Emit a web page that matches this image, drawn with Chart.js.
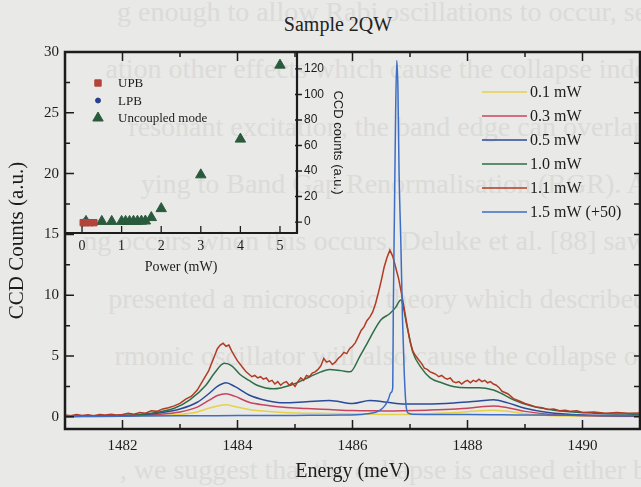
<!DOCTYPE html>
<html>
<head>
<meta charset="utf-8">
<script src="https://cdn.jsdelivr.net/npm/chart.js@4.4.1/dist/chart.umd.min.js"></script>
<style>
  html, body { margin: 0; padding: 0; background: #e9e9e7; overflow: hidden; }
  #wrap { position: relative; width: 641px; height: 487px; overflow: hidden; }
  .pg { position: absolute; right: -6px; white-space: nowrap; font: 28px "Liberation Serif", serif; color: #dbdbd9; line-height: 28px; }
  #title { position: absolute; top: 14px; left: 0; width: 676px; text-align: center; font: 20px "Liberation Serif", serif; line-height: 20px; color: #222; }
  canvas { position: absolute; left: 0; top: 0; }
</style>
</head>
<body>
<div id="wrap">
  <div id="page"></div>
  <div id="title">Sample 2QW</div>
  <canvas id="main" width="641" height="487"></canvas>
  <canvas id="inset" width="641" height="487"></canvas>
</div>
<script>
// show-through text of the scanned page
const pageText = [
  'g enough to allow Rabi oscillations to occur, se',
  'ation other effects which cause the collapse inde',
  'resonant excitation, the band edge can overlap',
  'ying to Band Gap Renormalisation (BGR). A',
  'ng occurs when this occurs, Deluke et al. [88] saw',
  'presented a microscopic theory which described',
  'rmonic oscillator will also cause the collapse of',
  '',
  ', we suggest that the collapse is caused either b'
];

// main spectra
const seriesLabels = ['0.1 mW', '0.3 mW', '0.5 mW', '1.0 mW', '1.1 mW', '1.5 mW (+50)'];
const seriesColors = ['#e4d24a', '#c8445c', '#2b4a98', '#2e6e46', '#b23b24', '#3c6ec6'];

const energyLow = [1481.0, 1482.0, 1482.6, 1483.0, 1483.3, 1483.5, 1483.65, 1483.8, 1483.95, 1484.2, 1484.5, 1484.8,
  1485.2, 1485.6, 1486.0, 1486.3, 1486.6, 1486.9, 1487.3, 1487.8, 1488.2, 1488.45, 1488.7, 1489.0, 1489.4, 1490.0, 1491.0];
const counts01 = [0.02, 0.05, 0.1, 0.2, 0.4, 0.7, 0.9, 1.0, 0.85, 0.6, 0.45, 0.35, 0.3, 0.28, 0.25, 0.22, 0.2, 0.2,
  0.25, 0.35, 0.5, 0.55, 0.45, 0.25, 0.12, 0.06, 0.03];
const counts03 = [0.03, 0.08, 0.2, 0.4, 0.8, 1.35, 1.75, 1.9, 1.7, 1.2, 0.95, 0.78, 0.68, 0.6, 0.52, 0.5, 0.48, 0.5,
  0.55, 0.65, 0.8, 0.9, 0.75, 0.45, 0.22, 0.1, 0.05];
const counts05 = [0.03, 0.1, 0.3, 0.65, 1.2, 1.9, 2.5, 2.8, 2.5, 1.8, 1.35, 1.15, 1.25, 1.35, 1.1, 1.35, 1.2, 1.05,
  1.05, 1.15, 1.3, 1.4, 1.15, 0.7, 0.35, 0.15, 0.08];

const energy10 = [1481.0, 1482.0, 1482.5, 1482.9, 1483.17, 1483.45, 1483.6, 1483.77, 1483.9, 1484.04, 1484.2, 1484.34,
  1484.63, 1484.92, 1485.26, 1485.45, 1485.6, 1485.8, 1485.96, 1486.13, 1486.25, 1486.4, 1486.5, 1486.65, 1486.75,
  1486.84, 1486.95, 1487.05, 1487.2, 1487.35, 1487.55, 1487.75, 1488.0, 1488.2, 1488.45, 1488.6, 1488.8, 1489.1,
  1489.5, 1490.2, 1491.0];
const counts10 = [0.05, 0.1, 0.3, 0.7, 1.4, 2.6, 3.6, 4.4, 4.2, 3.5, 3.0, 2.6, 2.3, 2.6, 3.3, 3.7, 3.9, 3.8, 3.7, 5.0,
  6.0, 7.3, 8.0, 8.5, 9.0, 9.6, 7.4, 5.3, 4.0, 3.2, 2.8, 2.5, 2.4, 2.4, 2.2, 1.9, 1.4, 0.9, 0.55, 0.3, 0.2];

const energy11 = [1481.0, 1481.1, 1481.2, 1481.3, 1481.4, 1481.5, 1481.6, 1481.7, 1481.8, 1481.9, 1482.0, 1482.1,
  1482.2, 1482.3, 1482.4, 1482.5, 1482.6, 1482.7, 1482.8, 1482.9, 1483.0, 1483.1, 1483.2, 1483.3, 1483.4, 1483.5,
  1483.6, 1483.65, 1483.7, 1483.75, 1483.8, 1483.85, 1483.9, 1483.95, 1484.0, 1484.05, 1484.1, 1484.15, 1484.2,
  1484.25, 1484.3, 1484.35, 1484.4, 1484.45, 1484.5, 1484.55, 1484.6, 1484.65, 1484.7, 1484.75, 1484.8, 1484.85,
  1484.9, 1484.95, 1485.0, 1485.05, 1485.1, 1485.15, 1485.2, 1485.25, 1485.3, 1485.35, 1485.4, 1485.45, 1485.5,
  1485.55, 1485.6, 1485.65, 1485.7, 1485.75, 1485.8, 1485.85, 1485.9, 1485.95, 1486.0, 1486.05, 1486.1, 1486.15,
  1486.2, 1486.25, 1486.3, 1486.35, 1486.4, 1486.45, 1486.5, 1486.55, 1486.6, 1486.65, 1486.7, 1486.75, 1486.8,
  1486.85, 1486.9, 1486.95, 1487.0, 1487.05, 1487.1, 1487.15, 1487.2, 1487.25, 1487.3, 1487.35, 1487.4, 1487.45,
  1487.5, 1487.55, 1487.6, 1487.65, 1487.7, 1487.75, 1487.8, 1487.85, 1487.9, 1487.95, 1488.0, 1488.05, 1488.1,
  1488.15, 1488.2, 1488.25, 1488.3, 1488.35, 1488.4, 1488.45, 1488.5, 1488.55, 1488.6, 1488.7, 1488.8, 1488.9,
  1489.0, 1489.1, 1489.2, 1489.3, 1489.4, 1489.5, 1489.6, 1489.7, 1489.8, 1489.9, 1490.0, 1490.2, 1490.4, 1490.6,
  1490.8, 1491.0];
const counts11 = [0.15, 0.1, 0.2, 0.12, 0.18, 0.1, 0.2, 0.15, 0.22, 0.16, 0.2, 0.3, 0.22, 0.35, 0.3, 0.5, 0.45,
  0.65, 0.75, 0.9, 1.1, 1.45, 1.7, 2.2, 3.0, 3.8, 5.0, 5.6, 5.9, 6.05, 5.8, 5.9, 5.4, 5.0, 4.6, 4.3, 4.0, 3.7, 3.5,
  3.3, 3.4, 3.2, 3.3, 3.1, 3.2, 2.9, 3.0, 2.7, 2.9, 2.6, 2.8, 2.9, 2.6, 2.8, 2.5, 2.9, 3.2, 3.0, 3.4, 3.3, 3.6, 3.7,
  3.9, 4.2, 4.8, 4.5, 4.6, 4.3, 4.5, 4.8, 5.0, 5.3, 5.2, 5.6, 5.8, 6.1, 6.6, 7.1, 7.4, 7.9, 8.2, 8.6, 9.3, 10.2,
  11.2, 12.3, 13.1, 13.7, 13.2, 12.3, 11.4, 10.2, 8.9, 7.5, 6.2, 5.4, 5.0, 4.7, 4.4, 4.0, 3.9, 3.7, 3.6, 3.5, 3.3,
  3.4, 3.2, 3.1, 3.2, 2.9, 2.8, 2.9, 2.7, 2.9, 3.0, 2.8, 3.0, 2.9, 3.1, 2.9, 3.0, 2.8, 2.9, 2.7, 2.6, 2.4, 2.1, 1.9,
  1.5, 1.3, 1.1, 0.95, 0.8, 0.75, 0.6, 0.65, 0.5, 0.55, 0.45, 0.5, 0.35, 0.4, 0.3, 0.35, 0.3, 0.32];

const energy15 = [1481.0, 1482.0, 1483.0, 1484.0, 1485.0, 1485.8, 1486.2, 1486.4, 1486.48, 1486.56, 1486.62,
  1486.67, 1486.7, 1486.71, 1486.73, 1486.75, 1486.77, 1486.79, 1486.81, 1486.84, 1486.87, 1486.9, 1486.93,
  1486.97, 1487.05, 1487.5, 1488.0, 1489.0, 1490.0, 1491.0];
const counts15 = [0.02, 0.05, 0.08, 0.1, 0.12, 0.15, 0.22, 0.38, 0.55, 0.9, 1.4, 2.0, 2.4, 9.0, 17.0, 25.0, 29.3,
  27.0, 20.0, 14.5, 8.0, 3.6, 1.0, 0.3, 0.22, 0.2, 0.2, 0.15, 0.12, 0.1];

const energyTicks = [1482, 1484, 1486, 1488, 1490];
const energyMinor = [1483, 1485, 1487, 1489];
const countTicks = [0, 5, 10, 15, 20, 25, 30];
const countMinor = [2.5, 7.5, 12.5, 17.5, 22.5, 27.5];

// inset: peak intensity vs power
const insetLabels = ['UPB', 'LPB', 'Uncoupled mode'];
const upbPower = [0.03, 0.1, 0.2, 0.3];
const upbCounts = [-0.5, -0.5, -0.5, -0.5];
const lpbPower = [0.05, 0.15];
const lpbCounts = [0.5, 0.3];
const uncPower = [0.1, 0.5, 0.75, 1.0, 1.1, 1.2, 1.3, 1.4, 1.5, 1.6, 1.75, 2.0, 3.0, 4.0, 5.0];
const uncCounts = [0.5, 0.5, 0.5, 0.5, 0.5, 0.5, 0.6, 0.6, 0.7, 0.8, 3.5, 10.5, 37, 65, 123];
const powerTicks = [0, 1, 2, 3, 4, 5];
const insetCountTicks = [0, 20, 40, 60, 80, 100, 120];

// ---- page text
const page = document.getElementById('page');
pageText.forEach((t, i) => {
  const d = document.createElement('div');
  d.className = 'pg';
  d.style.top = (12 + i * 57.3 - 14) + 'px';
  d.textContent = t;
  page.appendChild(d);
});

const pts = (xs, ys) => xs.map((x, i) => ({x: x, y: ys[i]}));
const serif = 'Liberation Serif';
const ink = '#1c1c1c';
const plain = v => String(v);

const mainSeries = [
  pts(energyLow, counts01), pts(energyLow, counts03), pts(energyLow, counts05),
  pts(energy10, counts10), pts(energy11, counts11), pts(energy15, counts15)
];

function seg(ctx, x1, y1, x2, y2) { ctx.moveTo(x1, y1); ctx.lineTo(x2, y2); }

const mainFrame = {
  id: 'mainFrame',
  afterDatasetsDraw(chart) {
    const {ctx, chartArea: a, scales: {x, y}} = chart;
    ctx.save();
    ctx.strokeStyle = ink;
    ctx.lineWidth = 1.5;
    ctx.beginPath();
    energyTicks.concat(energyMinor).forEach(e => {
      const px = x.getPixelForValue(e);
      const len = energyTicks.includes(e) ? 9 : 5;
      seg(ctx, px, a.bottom, px, a.bottom - len);
      seg(ctx, px, a.top, px, a.top + len);
    });
    countTicks.concat(countMinor).forEach(v => {
      const py = y.getPixelForValue(v);
      const len = countTicks.includes(v) ? 9 : 5;
      seg(ctx, a.left, py, a.left + len, py);
      seg(ctx, a.right, py, a.right - 6, py);
    });
    ctx.stroke();
    ctx.lineWidth = 2.5;
    ctx.strokeRect(a.left, a.top, a.right - a.left, a.bottom - a.top);
    ctx.restore();
  },
  afterDraw(chart) {
    const ctx = chart.ctx;
    ctx.save();
    ctx.font = '16px "' + serif + '"';
    ctx.textBaseline = 'middle';
    chart.data.datasets.forEach((ds, i) => {
      const yy = 92 + i * 24;
      ctx.strokeStyle = ds.borderColor;
      ctx.lineWidth = 1.6;
      ctx.beginPath();
      seg(ctx, 482, yy, 527, yy);
      ctx.stroke();
      ctx.fillStyle = ink;
      ctx.fillText(ds.label, 530, yy + 1);
    });
    ctx.restore();
  }
};

new Chart(document.getElementById('main'), {
  type: 'line',
  data: {
    datasets: mainSeries.map((d, i) => ({
      label: seriesLabels[i],
      data: d,
      borderColor: seriesColors[i],
      borderWidth: 1.5,
      pointRadius: 0,
      fill: false,
      tension: i === 4 ? 0 : 0.35,
      cubicInterpolationMode: i === 4 ? 'default' : 'monotone',
      order: i === 5 ? 0 : 6 - i
    }))
  },
  options: {
    responsive: false,
    animation: false,
    layout: {padding: {left: 0, right: 1, top: 52, bottom: 0}},
    plugins: {legend: {display: false}, tooltip: {enabled: false}},
    scales: {
      x: {
        type: 'linear', min: 1481, max: 1491,
        afterBuildTicks: s => { s.ticks = energyTicks.map(v => ({value: v})); },
        afterFit: s => { s.height = 58; },
        grid: {display: false, drawTicks: false},
        border: {display: false},
        ticks: {padding: 8, color: ink, font: {family: serif, size: 15}, maxRotation: 0, callback: plain},
        title: {display: true, text: 'Energy (meV)', color: ink, font: {family: serif, size: 20}, padding: {top: 0, bottom: 3}}
      },
      y: {
        type: 'linear', min: -1, max: 30,
        afterBuildTicks: s => { s.ticks = countTicks.map(v => ({value: v})); },
        afterFit: s => { s.width = 65; },
        grid: {display: false, drawTicks: false},
        border: {display: false},
        ticks: {padding: 6, color: ink, font: {family: serif, size: 15}, callback: plain},
        title: {display: true, text: 'CCD Counts (a.u.)', color: ink, font: {family: serif, size: 21}, padding: {top: 5, bottom: 0}}
      }
    }
  },
  plugins: [mainFrame]
});

// ---- inset
const insetColors = ['#b2443a', '#28408c', '#2a5a3c'];
const insetStyles = ['rect', 'circle', 'triangle'];
const insetRadius = [4.5, 2.5, 6];

const insetAxes = {
  id: 'insetAxes',
  afterDatasetsDraw(chart) {
    const {ctx, chartArea: a, scales: {x, y}} = chart;
    ctx.save();
    ctx.strokeStyle = ink;
    ctx.lineWidth = 1.3;
    ctx.beginPath();
    powerTicks.forEach(p => {
      const px = x.getPixelForValue(p);
      seg(ctx, px, a.bottom, px, a.bottom - 7);
    });
    insetCountTicks.forEach(v => {
      const py = y.getPixelForValue(v);
      seg(ctx, a.right - 2, py, a.right + 5, py);
    });
    ctx.stroke();
    ctx.lineWidth = 2.2;
    ctx.beginPath();
    seg(ctx, a.right, a.top, a.right, a.bottom);
    seg(ctx, a.left, a.bottom, a.right + 1, a.bottom);
    ctx.stroke();
    // legend
    ctx.font = '13px "' + serif + '"';
    ctx.textBaseline = 'middle';
    chart.data.datasets.forEach((ds, i) => {
      const yy = 83 + i * 17.5;
      ctx.fillStyle = ds.backgroundColor;
      ctx.strokeStyle = ds.borderColor;
      ctx.lineWidth = 1;
      Chart.helpers.drawPoint(ctx, {pointStyle: ds.pointStyle, radius: ds.pointRadius, borderWidth: 1, rotation: 0}, 98, yy);
      ctx.fillStyle = ink;
      ctx.fillText(ds.label, 118, yy + 1);
    });
    ctx.restore();
  }
};

new Chart(document.getElementById('inset'), {
  type: 'scatter',
  data: {
    datasets: [pts(upbPower, upbCounts), pts(lpbPower, lpbCounts), pts(uncPower, uncCounts)].map((d, i) => ({
      label: insetLabels[i],
      data: d,
      pointStyle: insetStyles[i],
      pointRadius: insetRadius[i],
      backgroundColor: insetColors[i],
      borderColor: insetColors[i],
      borderWidth: 1
    }))
  },
  options: {
    responsive: false,
    animation: false,
    layout: {padding: {left: 65, right: 284, top: 52, bottom: 199}},
    plugins: {legend: {display: false}, tooltip: {enabled: false}},
    scales: {
      x: {
        type: 'linear', min: -0.43, max: 5.43,
        afterBuildTicks: s => { s.ticks = powerTicks.map(v => ({value: v})); },
        afterFit: s => { s.height = 55; },
        grid: {display: false, drawTicks: false},
        border: {display: false},
        ticks: {padding: 5, color: ink, font: {family: serif, size: 14}, maxRotation: 0, callback: plain},
        title: {display: true, text: 'Power (mW)', color: ink, font: {family: serif, size: 14}, padding: {top: 0, bottom: 12}}
      },
      y: {
        type: 'linear', position: 'right', min: -8.6, max: 133.3,
        afterBuildTicks: s => { s.ticks = insetCountTicks.map(v => ({value: v})); },
        afterFit: s => { s.width = 60; },
        grid: {display: false, drawTicks: false},
        border: {display: false},
        ticks: {padding: 7, color: ink, font: {family: 'Liberation Sans', size: 12}, callback: plain},
        title: {display: true, text: 'CCD counts (a.u.)', color: ink, font: {family: 'Liberation Sans', size: 13}, padding: {top: 12, bottom: 0}}
      }
    }
  },
  plugins: [insetAxes]
});
</script>
</body>
</html>
